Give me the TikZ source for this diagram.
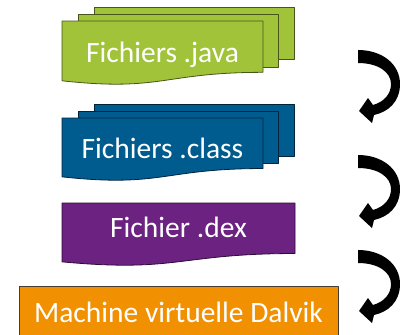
\documentclass[tikz,border=0pt]{standalone}
\usepackage{fontspec}
\setmainfont{Carlito}
\definecolor{jgreen}{RGB}{161,195,58}
\definecolor{jgreenD}{RGB}{70,85,25}
\definecolor{cblue}{RGB}{0,92,142}
\definecolor{cblueD}{RGB}{0,35,60}
\definecolor{dpurple}{RGB}{107,34,128}
\definecolor{dpurpleD}{RGB}{45,12,55}
\definecolor{dorange}{RGB}{241,144,0}
\definecolor{dorangeD}{RGB}{70,60,50}
\tikzset{
  page/.style={line width=0.8pt, line join=round},
  lbl/.style={text=white, font=\fontsize{29.5}{32}\selectfont, anchor=base, inner sep=0pt},
  bendarrow/.pic={
    \fill[black] (0,0) .. controls (24,0) and (42,14) .. (42,34)
      .. controls (42,52) and (30,62) .. (16,65) -- (14,73) -- (1,61) -- (10,48) -- (15,55)
      .. controls (26,52) and (33,44) .. (33,34)
      .. controls (33,22) and (20,13) .. (0,13) -- cycle;
  }
}
\newcommand\wavedoc[5]{% x0,y0,w,h,style
  \filldraw[#5] (#1,#2) -- ({#1+#3},#2) -- ({#1+#3},{#2+0.802*#4})
    .. controls ({#1+0.5*#3},{#2+0.802*#4}) and ({#1+0.5*#3},{#2+1.107*#4}) .. (#1,{#2+0.934*#4}) -- cycle;
}
\begin{document}
\begin{tikzpicture}[x=1pt,y=-1pt]
\useasboundingbox (0,0) rectangle (405,335);
\clip (0,0) rectangle (405,335);
% java
\filldraw[page,fill=jgreen,draw=jgreenD] (94,7) rectangle (294,59);
\filldraw[page,fill=jgreen,draw=jgreenD] (78,14) rectangle (278,67);
\wavedoc{62}{21}{201}{64}{page,fill=jgreen,draw=jgreenD}
\node[lbl] (java) at (162.5,62) {Fichiers .java};
% class
\filldraw[page,fill=cblue,draw=cblueD] (94,104) rectangle (294,156);
\filldraw[page,fill=cblue,draw=cblueD] (78,111) rectangle (278,163);
\wavedoc{62}{118}{201}{63}{page,fill=cblue,draw=cblueD}
\node[lbl] (class) at (162.5,158) {Fichiers .class};
% dex
\wavedoc{62}{203}{233}{63}{page,fill=dpurple,draw=dpurpleD}
\node[lbl] (dex) at (178.5,237) {Fichier .dex};
% dalvik
\filldraw[page,fill=dorange,draw=dorangeD] (19,286) rectangle (338,345);
\node[lbl] (dalvik) at (178.5,322) {Machine virtuelle Dalvik};
% arrows
\pic at (358,50) {bendarrow};
\pic at (358,155) {bendarrow};
\pic at (358,250) {bendarrow};
\end{tikzpicture}
\end{document}
